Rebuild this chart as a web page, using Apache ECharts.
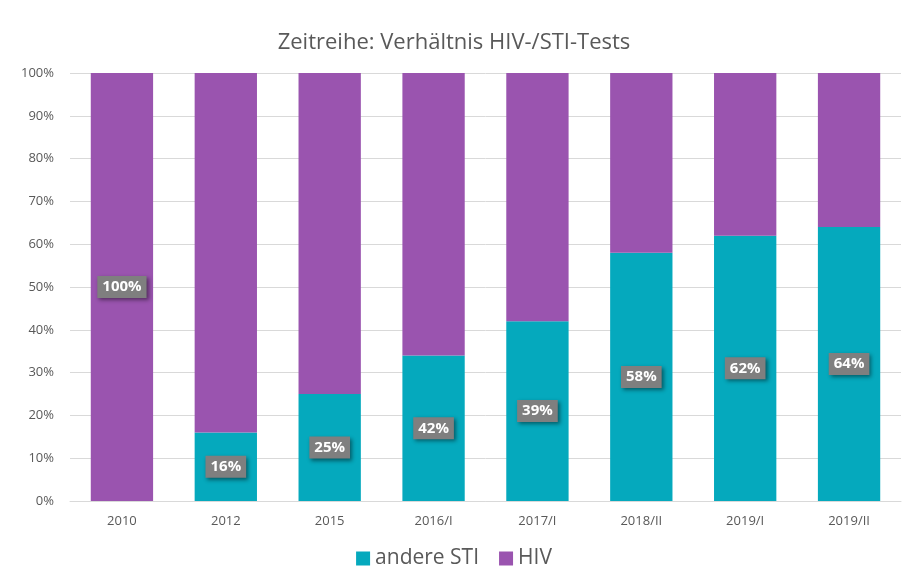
<!DOCTYPE html>
<html>
<head>
<meta charset="utf-8">
<script src="https://cdn.jsdelivr.net/npm/echarts@6/dist/echarts.min.js"></script>
<style>
	html, body { margin: 0; padding: 0; background: #fff; }
	#chart { width: 908px; height: 581px; }
</style>
</head>
<body>
<div id="chart"></div>
<script>
var categories = ['2010', '2012', '2015', '2016/I', '2017/I', '2018/II', '2019/I', '2019/II'];
var stiValues = [0, 16, 25, 34, 42, 58, 62, 64];
var hivValues = [100, 84, 75, 66, 58, 42, 38, 36];
// Beschriftung wie im Original (weicht teils von der Balkenhöhe ab)
var labelTexts = ['100%', '16%', '25%', '42%', '39%', '58%', '62%', '64%'];

var fontFam = '"Open Sans", "Noto Sans", sans-serif';

var labelStyle = {
	show: true,
	position: 'inside',
	color: '#fff',
	fontFamily: fontFam,
	fontWeight: 'bold',
	fontSize: 15,
	backgroundColor: '#7f7f7f',
	padding: [4, 5, 3, 5],
	shadowColor: 'rgba(0,0,0,0.45)',
	shadowBlur: 4,
	shadowOffsetX: 2,
	shadowOffsetY: 2
};

var buildData = function (values, onSti) {
	var result = [];
	for (var i = 0; i < values.length; i++) {
		// Label sitzt im STI-Balken, ausser wenn der leer ist
		var useHere = onSti ? stiValues[i] > 0 : stiValues[i] === 0;
		var txt = labelTexts[i];
		result.push({
			value: values[i],
			label: useHere ? Object.assign({}, labelStyle, { formatter: txt }) : { show: false }
		});
	}
	return result;
};

var chart = echarts.init(document.getElementById('chart'));
var option = {
	animation: false,
	title: {
		text: 'Zeitreihe: Verhältnis HIV-/STI-Tests',
		left: 'center',
		top: 27,
		textStyle: {
			color: '#595959',
			fontFamily: fontFam,
			fontWeight: 'normal',
			fontSize: 22
		}
	},
	legend: {
		bottom: 7,
		left: 'center',
		icon: 'rect',
		itemWidth: 14,
		itemHeight: 14,
		itemGap: 20,
		textStyle: {
			color: '#595959',
			fontFamily: fontFam,
			fontSize: 21
		},
		data: ['andere STI', 'HIV']
	},
	grid: {
		left: 70,
		right: 7,
		top: 73,
		bottom: 80,
		containLabel: false
	},
	xAxis: {
		type: 'category',
		data: categories,
		axisLine: { lineStyle: { color: '#d9d9d9' } },
		axisTick: { show: false },
		axisLabel: {
			color: '#595959',
			fontFamily: fontFam,
			fontSize: 13,
			margin: 14
		}
	},
	yAxis: {
		type: 'value',
		min: 0,
		max: 100,
		interval: 10,
		axisLine: { show: false },
		axisTick: { show: false },
		splitLine: { lineStyle: { color: '#d9d9d9' } },
		axisLabel: {
			formatter: '{value}%',
			color: '#595959',
			fontFamily: fontFam,
			fontSize: 13,
			margin: 16
		}
	},
	series: [
		{
			name: 'andere STI',
			type: 'bar',
			stack: 'total',
			barWidth: '60%',
			itemStyle: { color: '#05A9BD' },
			data: buildData(stiValues, true)
		},
		{
			name: 'HIV',
			type: 'bar',
			stack: 'total',
			barWidth: '60%',
			itemStyle: { color: '#9A54AF' },
			data: buildData(hivValues, false)
		}
	]
};
chart.setOption(option);
</script>
</body>
</html>
